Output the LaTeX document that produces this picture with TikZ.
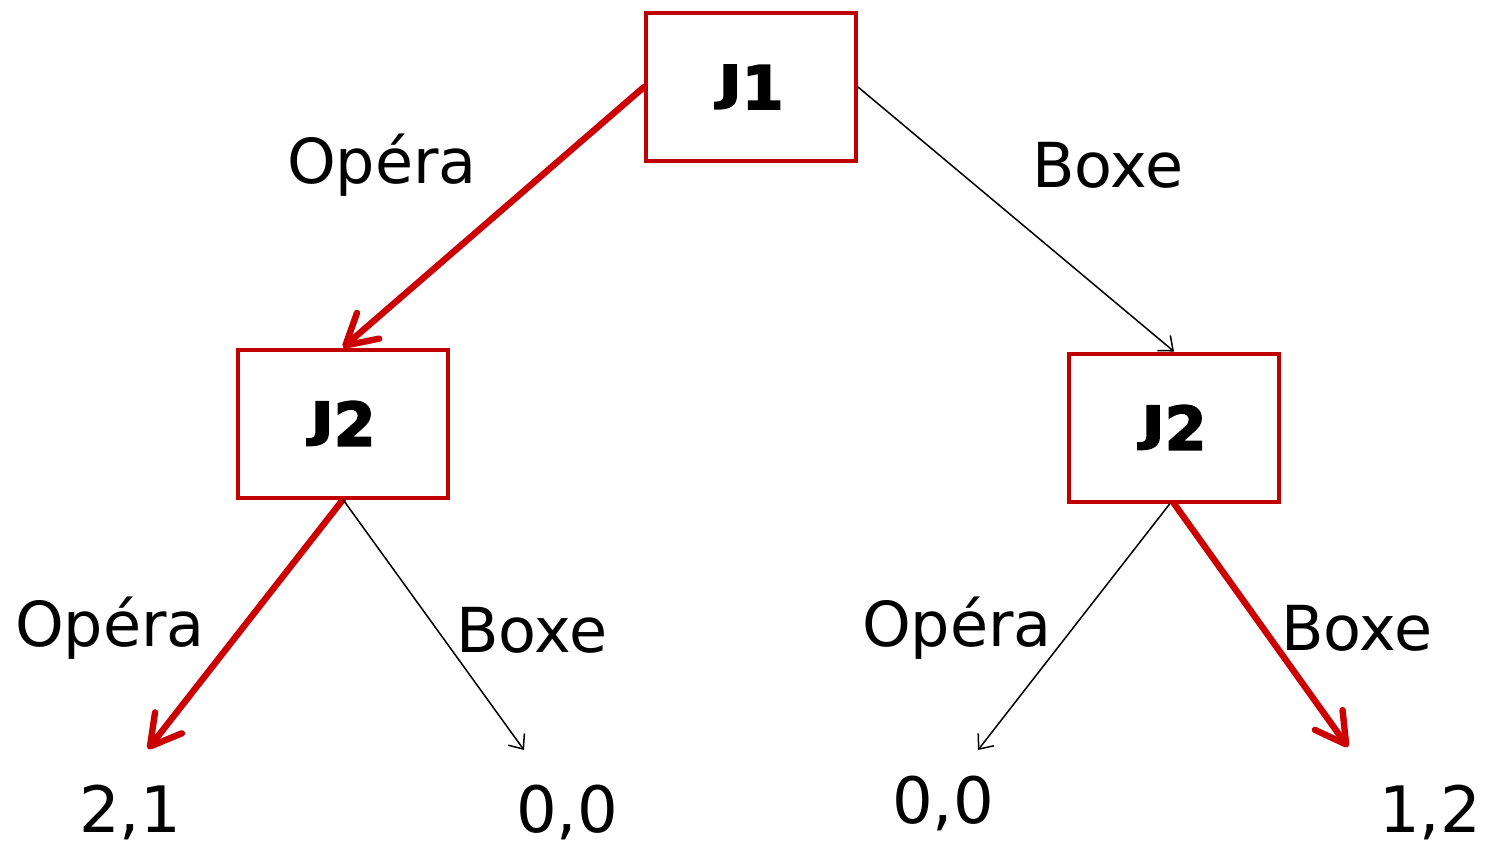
\documentclass[tikz,border=0pt]{standalone}
\usepackage{fontspec}
\usepackage{graphicx}
\setmainfont{DejaVu Sans}
\newfontfamily\heavyfont[FakeBold=3]{DejaVu Sans Bold}
\usetikzlibrary{arrows.meta}
\definecolor{treered}{HTML}{C00000}
\definecolor{pathred}{HTML}{CC0000}
% a J that sits on the baseline like the digit beside it
\newcommand\baseJ{\raisebox{0.16em}{\scalebox{1.04}[0.79]{J}}}
\begin{document}
\begin{tikzpicture}[x=0.5pt,y=-0.5pt,
  player/.style={draw=treered,line width=2pt,fill=white,minimum width=105pt,minimum height=74pt,inner sep=0pt,
    font=\heavyfont\fontsize{30}{32}\selectfont},
  lbl/.style={inner sep=0pt,font=\fontsize{31}{36}\selectfont},
  payoff/.style={inner sep=0pt,font=\fontsize{32}{36}\selectfont},
  chosen/.style={draw=pathred,line width=3.2pt,line cap=round,
    -{Straight Barb[length=15pt,width=17pt,line width=3.2pt,round]}},
  other/.style={draw=black,line width=0.75pt,
    -{Straight Barb[length=6pt,width=10pt,line width=0.75pt]}}]
\useasboundingbox (0,0) rectangle (1488,847);

% decision nodes
\node[player] (j1) at (751,87) {\baseJ1};
\node[player] (j2a) at (343,423.5) {\baseJ2};
\node[player] (j2b) at (1174,427.5) {\baseJ2};

% arrow ends above the payoffs
\coordinate (ea) at (148,749);
\coordinate (eb) at (524,750);
\coordinate (ec) at (978,750);
\coordinate (ed) at (1348,747);

% payoffs
\node[payoff] (pa) at (130,812) {2,1};
\node[payoff] (pb) at (567,812) {0,0};
\node[payoff] (pc) at (943,803) {0,0};
\node[payoff] (pd) at (1430,812) {1,2};

% moves
\draw[chosen] (j1.west) -- (j2a.north);
\draw[other] (j1.east) -- (j2b.north);
\draw[chosen] (j2a.south) -- (ea);
\draw[other] (j2a.south) -- (eb);
\draw[other] (j2b.south) ++(-4,0) coordinate (j2bs) -- (ec);
\draw[chosen] (j2b.south) -- (ed);

% move labels
\node[lbl] (l1) at (382,165) {Opéra};
\node[lbl] (l2) at (1108,165) {Boxe};
\node[lbl] (l3) at (110,628) {Opéra};
\node[lbl] (l4) at (532,630) {Boxe};
\node[lbl] (l5) at (957,628) {Opéra};
\node[lbl] (l6) at (1357,628) {Boxe};
\end{tikzpicture}
\end{document}
